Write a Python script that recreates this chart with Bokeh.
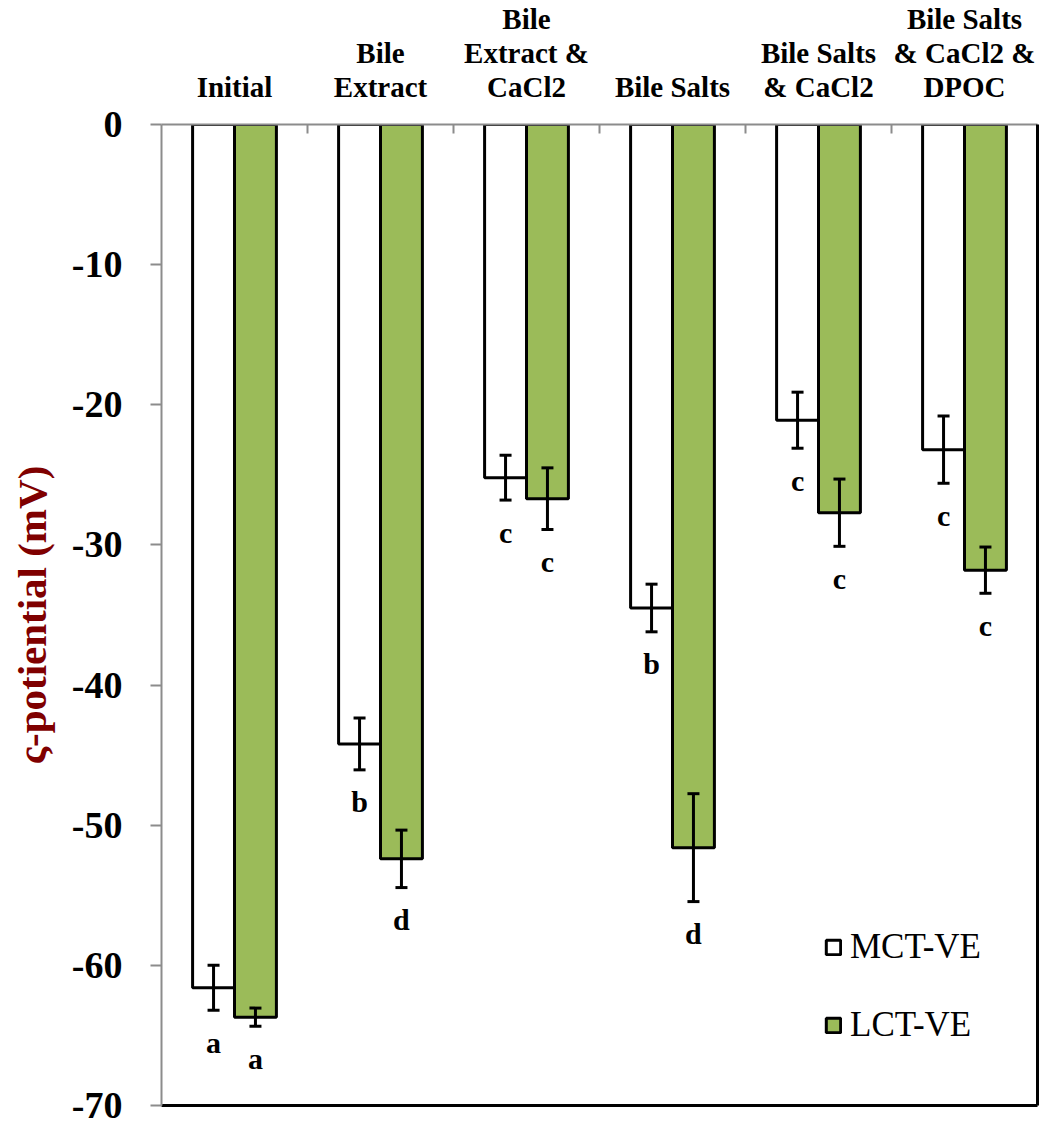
from bokeh.plotting import figure
from bokeh.models import (ColumnDataSource, Whisker, TeeHead, LinearAxis, FixedTicker,
                          Legend, LegendItem, Range1d)
from bokeh.core.properties import value
from bokeh.embed import file_html
from bokeh.resources import INLINE

categories = ["Initial", "Bile\nExtract", "Bile\nExtract &\nCaCl2", "Bile Salts",
              "Bile Salts\n& CaCl2", "Bile Salts\n& CaCl2 &\nDPOC"]
mct_values = [-61.6, -44.2, -25.2, -34.5, -21.1, -23.2]
mct_errors = [1.6, 1.85, 1.6, 1.7, 2.0, 2.4]
lct_values = [-63.7, -52.4, -26.7, -51.6, -27.7, -31.8]
lct_errors = [0.65, 2.05, 2.2, 3.85, 2.4, 1.65]
mct_letters = ["a", "b", "c", "b", "c", "c"]
lct_letters = ["a", "d", "c", "d", "c", "c"]
series_names = ["MCT-VE", "LCT-VE"]
y_ticks = [0, -10, -20, -30, -40, -50, -60, -70]

SERIF = "Liberation Serif"
BAR_W = 0.287
GREEN = "#9BBB59"

n = len(categories)
centers = [i + 0.5 for i in range(n)]

p = figure(frame_width=876, frame_height=981, output_backend="svg", toolbar_location=None,
           x_range=Range1d(0, n), y_range=Range1d(-70, 0),
           x_axis_location="above", min_border_left=161, min_border_top=118,
           min_border_right=3, min_border_bottom=22)
p.outline_line_color = None
p.grid.visible = False
p.background_fill_color = "white"

def make_src(vals, errs, letters, off):
    xs = [c + off for c in centers]
    return ColumnDataSource(dict(x=xs, top=[0] * n, bottom=vals,
                                 upper=[v + e for v, e in zip(vals, errs)],
                                 lower=[v - e for v, e in zip(vals, errs)],
                                 letter=letters))

src_m = make_src(mct_values, mct_errors, mct_letters, -BAR_W / 2)
src_l = make_src(lct_values, lct_errors, lct_letters, BAR_W / 2)

r_m = p.vbar(x="x", top="top", bottom="bottom", width=BAR_W, source=src_m,
             fill_color="white", line_color="black", line_width=3)
r_l = p.vbar(x="x", top="top", bottom="bottom", width=BAR_W, source=src_l,
             fill_color=GREEN, line_color="black", line_width=3)

for src in (src_m, src_l):
    w = Whisker(base="x", upper="upper", lower="lower", source=src, dimension="height",
                line_color="black", line_width=3, level="overlay",
                upper_head=TeeHead(size=12, line_width=3, line_color="black"),
                lower_head=TeeHead(size=12, line_width=3, line_color="black"))
    p.add_layout(w)
    p.text(x="x", y="lower", text="letter", source=src, text_align="center",
           text_baseline="alphabetic", y_offset=32, text_font=value(SERIF),
           text_font_style="bold", text_font_size="30px", text_color="black")

# top (category) axis
xa = p.xaxis[0]
xa.ticker = FixedTicker(ticks=centers, minor_ticks=list(range(1, n)))
xa.major_label_overrides = {c: lab for c, lab in zip(centers, categories)}
xa.major_tick_line_color = None
xa.minor_tick_in = 9
xa.minor_tick_out = 0
xa.minor_tick_line_color = "#8c8c8c"
xa.minor_tick_line_width = 2
xa.axis_line_color = "#8c8c8c"
xa.axis_line_width = 2
xa.major_label_text_font = SERIF
xa.major_label_text_font_style = "bold"
xa.major_label_text_font_size = "29px"
xa.major_label_text_color = "black"
xa.major_label_standoff = 16
xa.major_label_text_line_height = 1.05

# left axis
ya = p.yaxis[0]
ya.ticker = FixedTicker(ticks=y_ticks)
ya.major_label_overrides = {t: str(t) for t in y_ticks}
ya.minor_tick_line_color = None
ya.major_tick_in = 0
ya.major_tick_out = 11
ya.major_tick_line_color = "#8c8c8c"
ya.major_tick_line_width = 2
ya.axis_line_color = "#8c8c8c"
ya.axis_line_width = 2
ya.major_label_text_font = SERIF
ya.major_label_text_font_style = "bold"
ya.major_label_text_font_size = "38px"
ya.major_label_text_color = "black"
ya.major_label_standoff = 28
ya.axis_label = "ς-potiential (mV)"
ya.axis_label_text_font = SERIF
ya.axis_label_text_font_style = "bold"
ya.axis_label_text_font_size = "41px"
ya.axis_label_text_color = "#7F0000"
ya.axis_label_standoff = 14

# right and bottom black borders
for side in ("right", "below"):
    ax = LinearAxis(ticker=FixedTicker(ticks=[]), major_tick_line_color=None,
                    minor_tick_line_color=None, major_tick_in=0, major_tick_out=0,
                    minor_tick_in=0, minor_tick_out=0, axis_line_color="black",
                    axis_line_width=3, major_label_standoff=0)
    p.add_layout(ax, side)

legend = Legend(items=[LegendItem(label=series_names[0], renderers=[r_m]),
                       LegendItem(label=series_names[1], renderers=[r_l])],
                location=(663, 60), orientation="vertical",
                label_text_font=SERIF, label_text_font_size="35px",
                label_text_color="black", glyph_width=18, glyph_height=18,
                label_height=40, spacing=38, label_standoff=8, padding=0, margin=0,
                border_line_color=None, background_fill_alpha=0)
p.add_layout(legend, "center")

open("out.html", "w").write(file_html(p, INLINE))
